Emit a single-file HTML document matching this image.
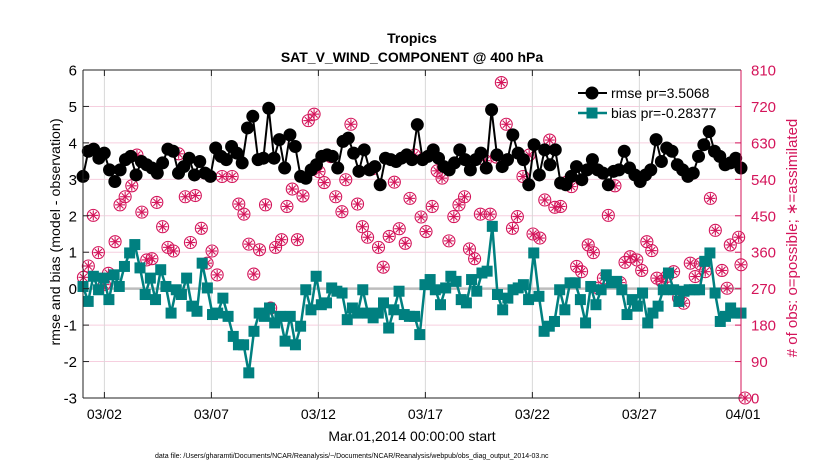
<!DOCTYPE html>
<html><head><meta charset="utf-8"><style>
html,body{margin:0;padding:0;background:#fff;}
svg{display:block;font-family:"Liberation Sans",Arial,sans-serif;}
</style></head><body>
<svg id="chart" width="830" height="470" viewBox="0 0 830 470" xmlns="http://www.w3.org/2000/svg">
<rect width="830" height="470" fill="#fff"/>
<g id="grid"></g>
<g id="marks"></g>
<g id="axes"></g>
<text x="412" y="43" font-size="14" font-weight="bold" text-anchor="middle">Tropics</text>
<text x="412" y="62" font-size="14" font-weight="bold" text-anchor="middle">SAT_V_WIND_COMPONENT @ 400 hPa</text>
<text x="412" y="441" font-size="14" text-anchor="middle">Mar.01,2014 00:00:00 start</text>
<text x="155" y="458" font-size="7" fill="#000">data file: /Users/gharamti/Documents/NCAR/Reanalysis/~/Documents/NCAR/Reanalysis/webpub/obs_diag_output_2014-03.nc</text>
<text transform="translate(60,232) rotate(-90)" font-size="14.2" text-anchor="middle">rmse and bias (model - observation)</text>
<text transform="translate(797,238) rotate(-90)" font-size="15" text-anchor="middle" fill="#d4145a"># of obs: o=possible; ∗=assimilated</text>
<g>
<line x1="578" y1="93" x2="607" y2="93" stroke="#000" stroke-width="2"/>
<circle cx="592" cy="93" r="6.5" fill="#000"/>
<text x="611" y="98" font-size="14">rmse pr=3.5068</text>
<line x1="578" y1="113" x2="607" y2="113" stroke="#008080" stroke-width="2.5"/>
<rect x="586.5" y="107.5" width="11" height="11" fill="#008080"/>
<text x="611" y="118" font-size="14">bias pr=-0.28377</text>
</g>
</svg>
<script>
const rmse = [3.08,3.77,3.83,3.58,3.72,3.26,2.94,3.26,3.54,3.63,3.12,3.49,3.40,3.31,3.17,3.45,3.83,3.77,3.17,3.35,3.58,3.12,3.49,3.17,3.08,3.86,3.63,3.54,3.90,3.72,3.45,4.41,4.73,
3.54,3.58,4.95,3.58,4.09,3.31,4.22,3.90,3.08,3.03,3.26,3.40,3.63,3.67,3.63,3.31,4.04,4.13,3.72,3.22,3.81,3.26,3.35,2.85,3.58,3.54,3.49,3.58,3.67,
3.54,4.50,3.54,3.63,3.81,3.58,3.35,3.26,3.45,3.81,3.54,3.26,3.54,3.72,3.31,4.91,3.67,3.35,3.54,4.22,3.72,3.54,2.85,3.95,3.12,3.81,3.40,3.81,2.90,2.85,3.08,
3.35,2.99,3.26,3.54,3.26,3.17,2.85,3.22,3.26,3.77,3.31,3.12,2.94,3.12,3.26,4.09,3.49,3.86,3.77,3.40,3.26,3.08,3.17,3.63,3.95,4.31,3.77,3.63,3.40,3.45,3.58,3.31];
const bias = [0.06,-0.35,0.34,-0.03,0.29,-0.30,0.38,0.06,0.61,0.98,1.21,0.57,-0.16,0.29,-0.30,0.52,0.06,-0.67,-0.03,-0.16,0.29,-0.48,-0.62,0.70,0.02,-0.71,-0.67,-0.26,-0.76,-1.31,-1.54,-1.54,-2.31,-1.17,
-0.67,-0.76,-0.53,-0.94,-0.76,-1.44,-0.76,-1.54,-1.03,-0.03,-0.58,0.34,-0.44,-0.39,0.02,-0.07,-0.12,-0.85,-0.53,-0.67,-0.03,-0.67,-0.80,-0.67,-0.39,-1.08,-0.58,-0.07,-0.71,-0.76,
-0.76,-1.26,0.11,0.25,-0.03,-0.44,0.02,0.34,0.20,-0.30,-0.39,0.25,-0.07,0.43,0.48,1.71,-0.16,-0.58,-0.26,-0.03,0.02,0.11,-0.30,0.98,-0.21,-1.17,-1.03,-0.90,-0.03,-0.58,0.16,
0.16,-0.30,-0.94,0.06,-0.44,-0.03,0.38,0.16,0.20,-0.03,-0.71,-0.30,-0.48,-0.12,-0.94,-0.67,-0.48,-0.03,0.43,-0.03,-0.35,-0.07,-0.03,-0.03,-0.03,0.75,0.98,-0.12,-0.90,-0.76,-0.53,-0.67,-0.67];
const obsDay = [0.02,0.25,0.48,0.72,1.0,1.19,1.5,1.73,1.97,2.28,2.52,2.75,2.98,3.22,3.45,3.72,3.97,4.23,4.47,4.78,5.02,5.25,5.53,5.8,6.03,6.27,6.5,6.97,7.28,7.52,7.75,7.98,
8.25,8.53,8.77,9.0,9.28,9.53,9.78,10.02,10.28,10.53,10.8,11.03,11.27,11.58,11.81,12.1,12.28,12.52,12.83,13.06,13.3,13.53,13.81,14.03,14.31,14.55,14.78,15.06,15.28,15.49,
15.8,16.03,16.32,16.55,16.78,17.1,17.33,17.57,17.83,18.06,18.3,18.57,18.8,19.03,19.32,19.55,19.78,20.07,20.3,20.56,20.85,21.03,21.35,21.58,21.81,22.05,22.32,22.6,22.83,23.07,
23.3,23.61,23.85,24.08,24.32,24.55,24.86,25.1,25.33,25.57,25.88,26.11,26.35,26.58,26.82,27.05,27.29,27.6,27.83,28.07,28.38,28.61,28.85,29.08,29.32,29.55,29.86,30.1,30.25,30.64,30.75,31.0];
const obsCount = [298,326,451,359,280,308,386,477,497,524,600,459,341,344,483,423,372,363,603,497,384,500,419,333,363,304,547,547,479,454,380,306,
366,477,222,372,391,473,516,391,499,685,701,559,532,596,497,460,539,676,479,423,397,566,372,323,399,533,418,382,493,600,
447,411,473,561,543,388,448,477,497,368,344,454,586,454,595,779,676,419,448,547,600,405,395,489,637,471,473,533,522,325,
312,378,359,271,296,451,524,285,335,349,341,315,386,364,296,288,300,312,247,234,333,300,331,312,493,414,315,271,378,397,329,0];
const leftTicks = [-3,-2,-1,0,1,2,3,4,5,6];
const rightTicks = [0,90,180,270,360,450,540,630,720,810];
const dateTicks = [1,6,11,16,21,26,31];
const dateLabels = ["03/02","03/07","03/12","03/17","03/22","03/27","04/01"];

const L=83,R=741,T=70,B=398,DAYS=30.75;
const xS=d=>L+(R-L)*d/DAYS;
const yS=v=>T+(B-T)*(6-v)/9;
const yR=c=>T+(B-T)*(810-c)/810;
const NS="http://www.w3.org/2000/svg";
function mk(tag,attrs,parent){const e=document.createElementNS(NS,tag);for(const k in attrs)e.setAttribute(k,attrs[k]);parent.appendChild(e);return e;}
const grid=document.getElementById('grid'),marks=document.getElementById('marks'),axes=document.getElementById('axes');

leftTicks.forEach(v=>{
  const g=mk('line',{x1:L,x2:R,y1:yS(v),y2:yS(v),stroke:'#f6cfdf','stroke-width':1},grid);
  
  
  mk('line',{x1:L,x2:L+6,y1:yS(v),y2:yS(v),stroke:'#222'},axes);
  const t=mk('text',{x:L-6,y:yS(v)+5.5,'font-size':15,'text-anchor':'end'},axes);
  t.textContent=v;
  
  
});
rightTicks.forEach(c=>{
  mk('line',{x1:R-6,x2:R,y1:yR(c),y2:yR(c),stroke:'#d4145a'},axes);
  const t=mk('text',{x:R+10,y:yR(c)+5.5,'font-size':15,fill:'#d4145a'},axes);
  t.textContent=c;
  
  
});
dateTicks.forEach((d,i)=>{
  const x=Math.min(xS(d),R+2);
  if(x<R){const g=mk('line',{x1:x,x2:x,y1:T,y2:B,stroke:'#d8d8d8'},grid);
  
  
  mk('line',{x1:x,x2:x,y1:B,y2:B-6,stroke:'#222'},axes);
  mk('line',{x1:x,x2:x,y1:T,y2:T+6,stroke:'#222'},axes);}
  const t=mk('text',{x:x,y:419,'font-size':14,'text-anchor':'middle'},axes);
  t.textContent=dateLabels[i];
  
  
});
const zl=mk('line',{x1:L,x2:R,y1:yS(0),y2:yS(0),stroke:'#bdbdbd','stroke-width':2.5},grid);



obsDay.forEach((d,i)=>{
  const cx=Math.min(xS(d),R+4),cy=yR(obsCount[i]);
  const g=mk('g',{stroke:'#d4145a',fill:'none','stroke-width':1.1},marks);
  
  
  mk('circle',{cx:cx,cy:cy,r:6},g);
  mk('line',{x1:cx-5,x2:cx+5,y1:cy,y2:cy},g);
  mk('line',{x1:cx,x2:cx,y1:cy-5,y2:cy+5},g);
  mk('line',{x1:cx-3.5,x2:cx+3.5,y1:cy-3.5,y2:cy+3.5},g);
  mk('line',{x1:cx-3.5,x2:cx+3.5,y1:cy+3.5,y2:cy-3.5},g);
});
const bx=i=>xS(i*DAYS/(bias.length-1));
const bl=mk('polyline',{points:bias.map((v,i)=>bx(i)+','+yS(v)).join(' '),fill:'none',stroke:'#008080','stroke-width':2.5},marks);


bias.forEach((v,i)=>{
  const r=mk('rect',{x:bx(i)-5.5,y:yS(v)-5.5,width:11,height:11,fill:'#008080'},marks);
  
  
});
const rx=i=>xS(i*DAYS/(rmse.length-1));
const rl=mk('polyline',{points:rmse.map((v,i)=>rx(i)+','+yS(v)).join(' '),fill:'none',stroke:'#000','stroke-width':2},marks);


rmse.forEach((v,i)=>{
  const c=mk('circle',{cx:rx(i),cy:yS(v),r:6.5,fill:'#000'},marks);
  
  
});
mk('line',{x1:L,x2:R,y1:B,y2:B,stroke:'#222'},axes);
mk('line',{x1:L,x2:R,y1:T,y2:T,stroke:'#222'},axes);
mk('line',{x1:L,x2:L,y1:T,y2:B,stroke:'#222'},axes);
mk('line',{x1:R,x2:R,y1:T,y2:B,stroke:'#d4145a'},axes);
</script>
</body></html>
